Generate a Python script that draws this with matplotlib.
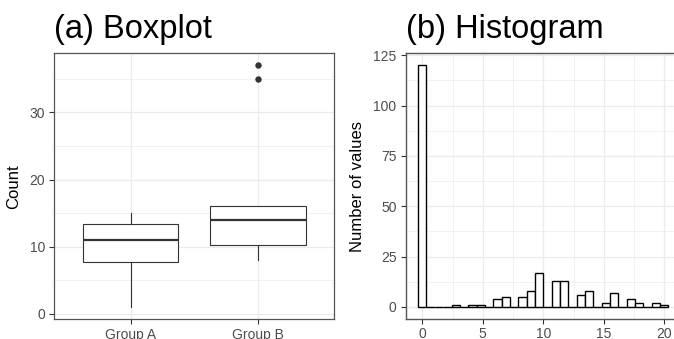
import matplotlib
matplotlib.use("Agg")
import matplotlib.pyplot as plt
import numpy as np
from matplotlib.ticker import MultipleLocator

plt.rcParams['font.family'] = ['Liberation Sans', 'DejaVu Sans']

# ---- data ----
groups = ["Group A", "Group B"]
box_whislo = [1, 8]
box_q1 = [7.75, 10.25]
box_med = [11, 14]
box_q3 = [13.4, 16]
box_whishi = [15, 16]
box_fliers = [[], [35, 37]]

hist_counts = [120, 0, 0, 0, 1, 0, 1, 1, 0, 4,
               5, 0, 5, 8, 17, 0, 13, 13, 0, 6,
               8, 0, 2, 7, 0, 4, 2, 0, 2, 1]
hist_min, hist_max = 0, 20

# ---- style ----
GRID = "#EBEBEB"
BORDER = "#333333"
TICKLAB = "#4D4D4D"

W, H = 674, 339
fig = plt.figure(figsize=(W / 100, H / 100), dpi=100)

def frac(l, t, r, b):
    return [l / W, (H - b) / H, (r - l) / W, (b - t) / H]

TITLE_FS = 23.5
TICK_FS = 10
LAB_FS = 12

# ---------------- (a) Boxplot ----------------
ax1 = fig.add_axes(frac(54.3, 53.3, 334.3, 319.3))
stats = []
for i, g in enumerate(groups):
    stats.append(dict(label=g, med=box_med[i], q1=box_q1[i], q3=box_q3[i],
                      whislo=box_whislo[i], whishi=box_whishi[i],
                      fliers=box_fliers[i]))
ax1.bxp(stats, positions=[1, 2], widths=0.75, showcaps=False, patch_artist=True,
        boxprops=dict(facecolor="white", edgecolor=BORDER, linewidth=0.8),
        whiskerprops=dict(color=BORDER, linewidth=0.8),
        medianprops=dict(color=BORDER, linewidth=1.6),
        flierprops=dict(marker="o", markerfacecolor=BORDER, markeredgecolor=BORDER,
                        markersize=3.6), zorder=3)
ax1.set_xlim(0.4, 2.6)
ax1.set_ylim(-0.8, 38.8)
ax1.yaxis.set_major_locator(MultipleLocator(10))
ax1.yaxis.set_minor_locator(MultipleLocator(5))
ax1.set_xticks([1, 2])
ax1.set_xticklabels(groups)
ax1.grid(which="major", color=GRID, linewidth=0.9, zorder=0)
ax1.grid(which="minor", axis="y", color=GRID, linewidth=0.5, zorder=0)
ax1.set_axisbelow(True)
for s in ax1.spines.values():
    s.set_color("#555555")
    s.set_linewidth(0.9)
ax1.tick_params(which="major", length=3.5, width=0.8, color=BORDER, labelcolor=TICKLAB,
                labelsize=TICK_FS, pad=3)
ax1.tick_params(axis="x", pad=3)
ax1.tick_params(which="minor", length=0)
ax1.set_ylabel("Count", fontsize=LAB_FS, labelpad=6)
ax1.set_title("(a) Boxplot", fontsize=TITLE_FS, loc="left", x=0.0, pad=11)

# ---------------- (b) Histogram ----------------
binw = (hist_max - hist_min) / (len(hist_counts) - 1)
centers = hist_min + np.arange(len(hist_counts)) * binw
xlo = hist_min - binw / 2
xhi = hist_max + binw / 2
pad = 0.05 * (xhi - xlo)
xl0, xl1 = xlo - pad, xhi + pad
px_per_unit = 12.1
x0_px = 422.3
left_px = x0_px + xl0 * px_per_unit
right_px = x0_px + xl1 * px_per_unit
ax2 = fig.add_axes(frac(left_px, 53.3, right_px, 319.0))
ax2.bar(centers, hist_counts, width=binw, facecolor="white", edgecolor="black",
        linewidth=1.0, zorder=3)
ax2.set_xlim(xl0, xl1)
ax2.set_ylim(-6, 126)
ax2.xaxis.set_major_locator(MultipleLocator(5))
ax2.xaxis.set_minor_locator(MultipleLocator(2.5))
ax2.yaxis.set_major_locator(MultipleLocator(25))
ax2.yaxis.set_minor_locator(MultipleLocator(12.5))
ax2.grid(which="major", color=GRID, linewidth=0.9, zorder=0)
ax2.grid(which="minor", color=GRID, linewidth=0.5, zorder=0)
ax2.set_axisbelow(True)
for s in ax2.spines.values():
    s.set_color("#555555")
    s.set_linewidth(1.0)
ax2.tick_params(which="major", length=3.5, width=0.8, color=BORDER, labelcolor=TICKLAB,
                labelsize=TICK_FS, pad=3)
ax2.tick_params(axis="x", pad=2.5)
ax2.tick_params(which="minor", length=0)
ax2.set_ylabel("Number of values", fontsize=LAB_FS, labelpad=6)
ax2.set_title("(b) Histogram", fontsize=TITLE_FS, loc="left", x=0.0, pad=11)

fig.savefig("out.png", dpi=100)
